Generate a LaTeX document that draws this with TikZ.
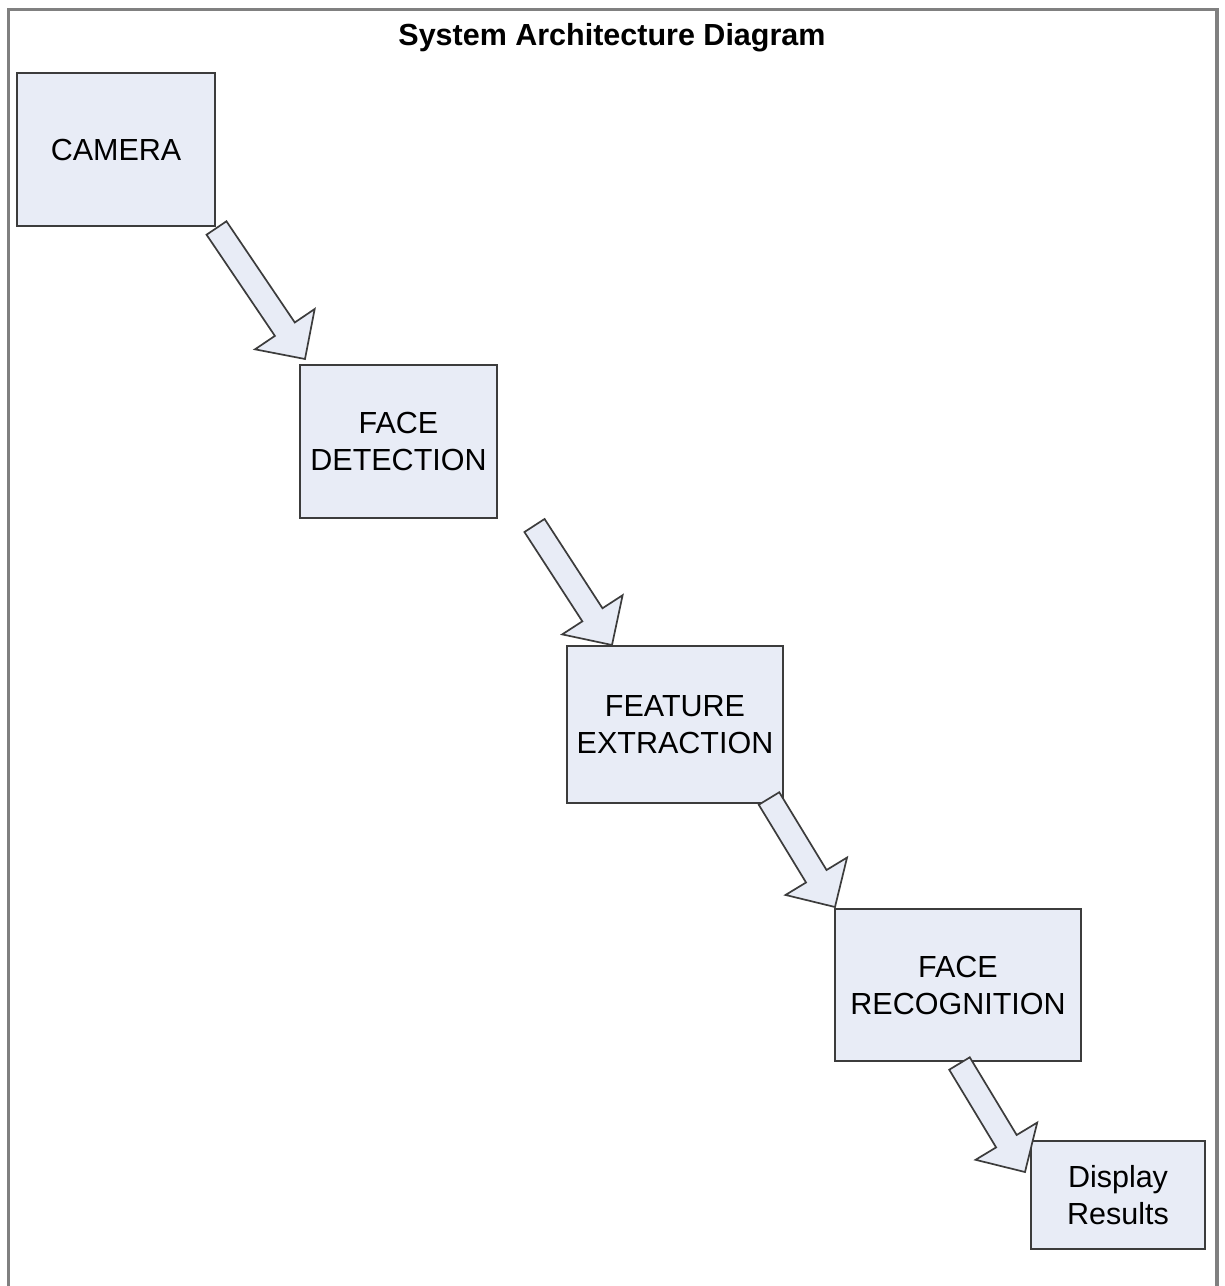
\documentclass[tikz,border=0pt]{standalone}
\usepackage{fontspec}
\setmainfont{Liberation Sans}
\usetikzlibrary{calc}

\definecolor{boxfill}{HTML}{E8ECF6}
\definecolor{boxline}{HTML}{3C3C3C}
\definecolor{framegray}{HTML}{808080}

% Block arrow from tail point #1 to tip point #2
\newcommand\blockarrow[2]{%
  \coordinate (hb) at ($(#2)!18pt!(#1)$);
  \draw[flowarrow]
    ($(#1)!6pt!90:(#2)$) --
    ($(hb)!6pt!-90:(#1)$) --
    ($(hb)!18pt!-90:(#1)$) --
    (#2) --
    ($(hb)!18pt!90:(#1)$) --
    ($(hb)!6pt!90:(#1)$) --
    ($(#1)!6pt!-90:(#2)$) -- cycle;
}

\begin{document}
\begin{tikzpicture}[x=0.5pt,y=-0.5pt,
  stage/.style={draw=boxline, fill=boxfill, line width=1pt, inner sep=0pt,
    align=center, font=\fontsize{15.25}{18.5}\selectfont},
  flowarrow/.style={draw=boxline, fill=boxfill, line width=0.85pt, line join=miter},
  titletext/.style={font=\fontsize{15.25}{18.5}\selectfont\bfseries}]

\useasboundingbox (0,0) rectangle (1225,1286);
\fill[white] (0,0) rectangle (1225,1286);

% outer frame (open at the bottom)
\draw[framegray, line width=1.6pt] (8.5,1286) -- (8.5,9.5) -- (1217,9.5) -- (1217,1286);

\node[titletext] (title) at (612,38) {System Architecture Diagram};

% processing stages
\node[stage, minimum width=99pt, minimum height=76.5pt] (camera) at (116,149.5) {CAMERA};
\node[stage, minimum width=98.5pt, minimum height=76.5pt] (detect) at (398.5,441.5) {FACE\\DETECTION};
\node[stage, minimum width=108pt, minimum height=78.5pt] (extract) at (675,724.5) {FEATURE\\EXTRACTION};
\node[stage, minimum width=123pt, minimum height=76pt] (recog) at (958,985) {FACE\\RECOGNITION};
\node[stage, minimum width=87pt, minimum height=54pt] (display) at (1118,1195) {Display\\Results};

% arrow end points
\coordinate (a1s) at ([shift={(0.5,1)}]camera.south east);
\coordinate (a1e) at ([shift={(6,-5)}]detect.north west);
\coordinate (a2s) at ([shift={(36.5,6.5)}]detect.south east);
\coordinate (a2e) at ([shift={(46,0)}]extract.north west);
\coordinate (a3s) at ([shift={(-15,-5.5)}]extract.south east);
\coordinate (a3e) at ([shift={(1,-1)}]recog.north west);
\coordinate (a4s) at ([shift={(-122.5,1.5)}]recog.south east);
\coordinate (a4e) at ([shift={(-5,32)}]display.north west);

\blockarrow{a1s}{a1e}
\blockarrow{a2s}{a2e}
\blockarrow{a3s}{a3e}
\blockarrow{a4s}{a4e}

\end{tikzpicture}
\end{document}
